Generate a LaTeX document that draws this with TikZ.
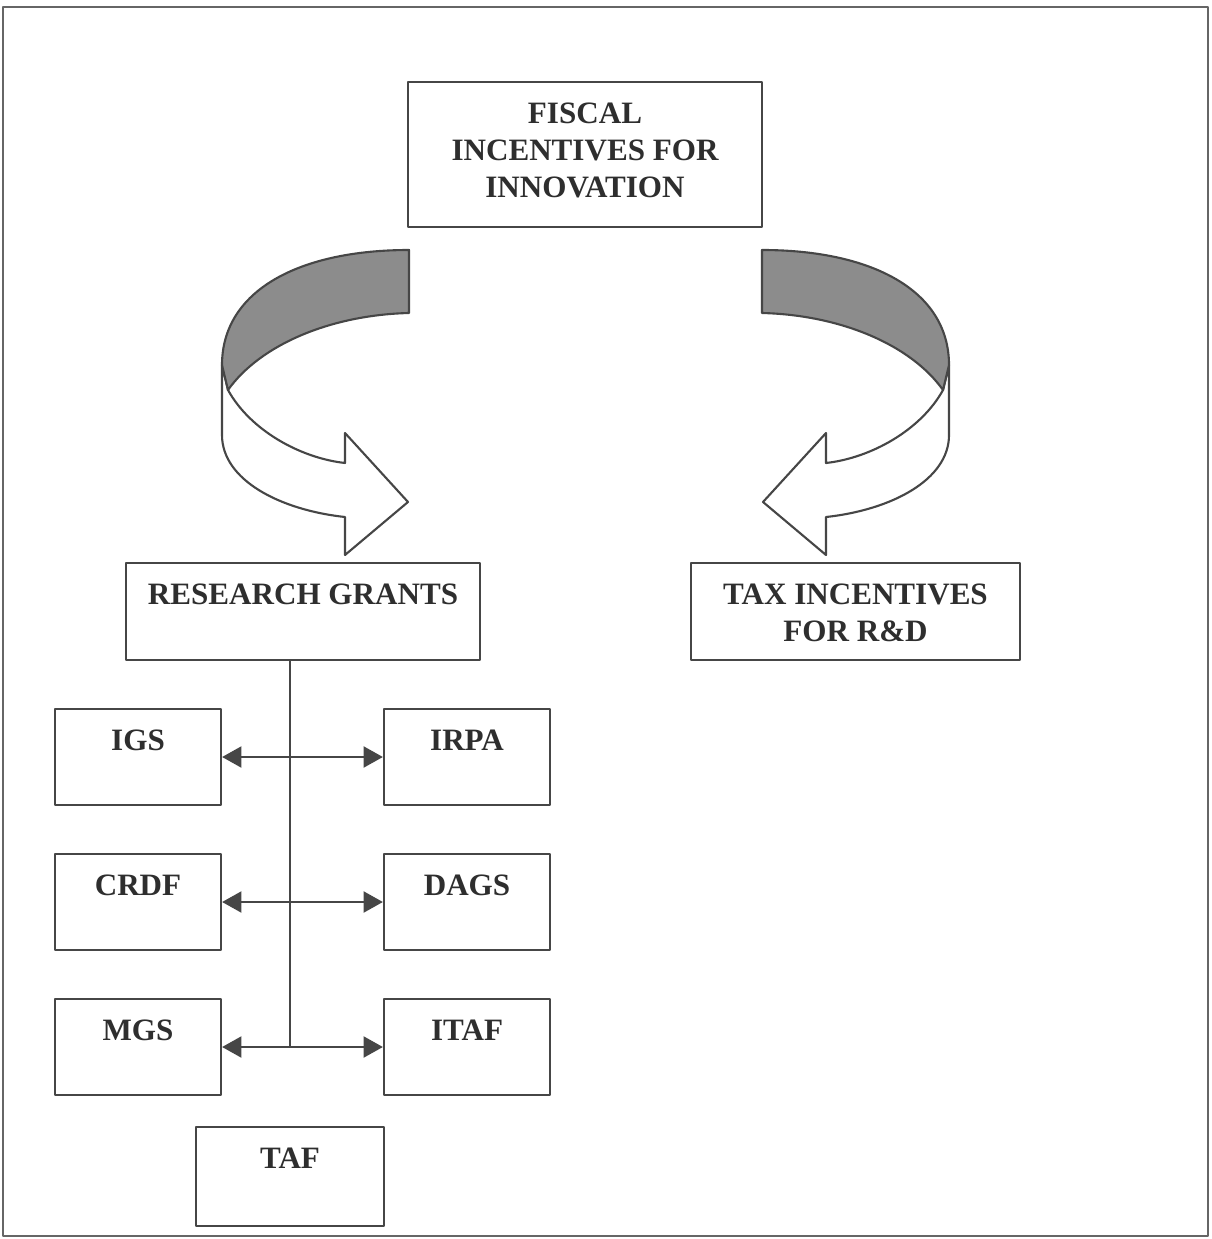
\documentclass[tikz,border=0pt]{standalone}
\usepackage{fontspec}
\setmainfont{Liberation Serif}
\usetikzlibrary{arrows.meta}
\definecolor{linegray}{HTML}{464646}
\definecolor{bandgray}{HTML}{8C8C8C}
\definecolor{textgray}{HTML}{2E2E2E}

\tikzset{
  turnarrow/.pic={
    \draw[draw=linegray, line width=1.2pt, fill=white] (228,390) .. controls (250,430) and (300,458) .. (345,463)
      -- (345,433) -- (408,502) -- (345,555) -- (345,517)
      .. controls (280,510) and (222,480) .. (222,435) -- (222,365) -- cycle;
    \draw[draw=linegray, line width=1.2pt, fill=bandgray] (409,250) .. controls (300,250) and (222,290) .. (222,365)
      -- (228,390) .. controls (260,345) and (330,315) .. (409,313) -- cycle;
  }
}

\begin{document}
\begin{tikzpicture}
        [x=0.02cm,y=-0.02cm,line join=round,
         box/.style={draw=linegray,line width=1.3pt,fill=white,inner sep=0pt},
         lbl/.style={anchor=north,yshift=-0.44cm,inner sep=0pt,align=center,
           font=\fontsize{17.7}{21}\selectfont\bfseries,text=textgray},
         conn/.style={draw=linegray,line width=1.1pt}]
        \useasboundingbox (0,0) rectangle (1211,1239);
        \draw[draw=black!60,line width=1.5pt] (3,7) rectangle (1208,1236);

        \node[box,minimum width=7.08cm,minimum height=2.9cm,
          label={[lbl]north:FISCAL\\INCENTIVES FOR\\INNOVATION}] (fiscal) at (585,154.5) {};

        \pic at (0,0) {turnarrow};
        \pic[xscale=-1] at (1171,0) {turnarrow};

        \node[box,minimum width=7.08cm,minimum height=1.94cm,
          label={[lbl]north:RESEARCH GRANTS}] (rg) at (303,611.5) {};
        \node[box,minimum width=6.58cm,minimum height=1.94cm,
          label={[lbl]north:TAX INCENTIVES\\FOR R\&D}] (tax) at (855.5,611.5) {};

        \node[box,minimum width=3.32cm,minimum height=1.92cm,label={[lbl]north:IGS}] (igs) at (138,757) {};
        \node[box,minimum width=3.32cm,minimum height=1.92cm,label={[lbl]north:IRPA}] (irpa) at (467,757) {};
        \node[box,minimum width=3.32cm,minimum height=1.92cm,label={[lbl]north:CRDF}] (crdf) at (138,902) {};
        \node[box,minimum width=3.32cm,minimum height=1.92cm,label={[lbl]north:DAGS}] (dags) at (467,902) {};
        \node[box,minimum width=3.32cm,minimum height=1.92cm,label={[lbl]north:MGS}] (mgs) at (138,1047) {};
        \node[box,minimum width=3.32cm,minimum height=1.92cm,label={[lbl]north:ITAF}] (itaf) at (467,1047) {};
        \node[box,minimum width=3.76cm,minimum height=1.98cm,label={[lbl]north:TAF}] (taf) at (290,1176.5) {};

        \coordinate (trunk) at (290,1048);
        \draw[conn] (trunk |- rg.south) -- (trunk);

        \foreach \l/\r in {igs/irpa,crdf/dags,mgs/itaf}
        {\draw[conn,-{Triangle[length=11pt,width=12pt]}] (\l.east -| trunk) -- (\l.east);
         \draw[conn,-{Triangle[length=11pt,width=12pt]}] (\r.west -| trunk) -- (\r.west);}
      \end{tikzpicture}
\end{document}
